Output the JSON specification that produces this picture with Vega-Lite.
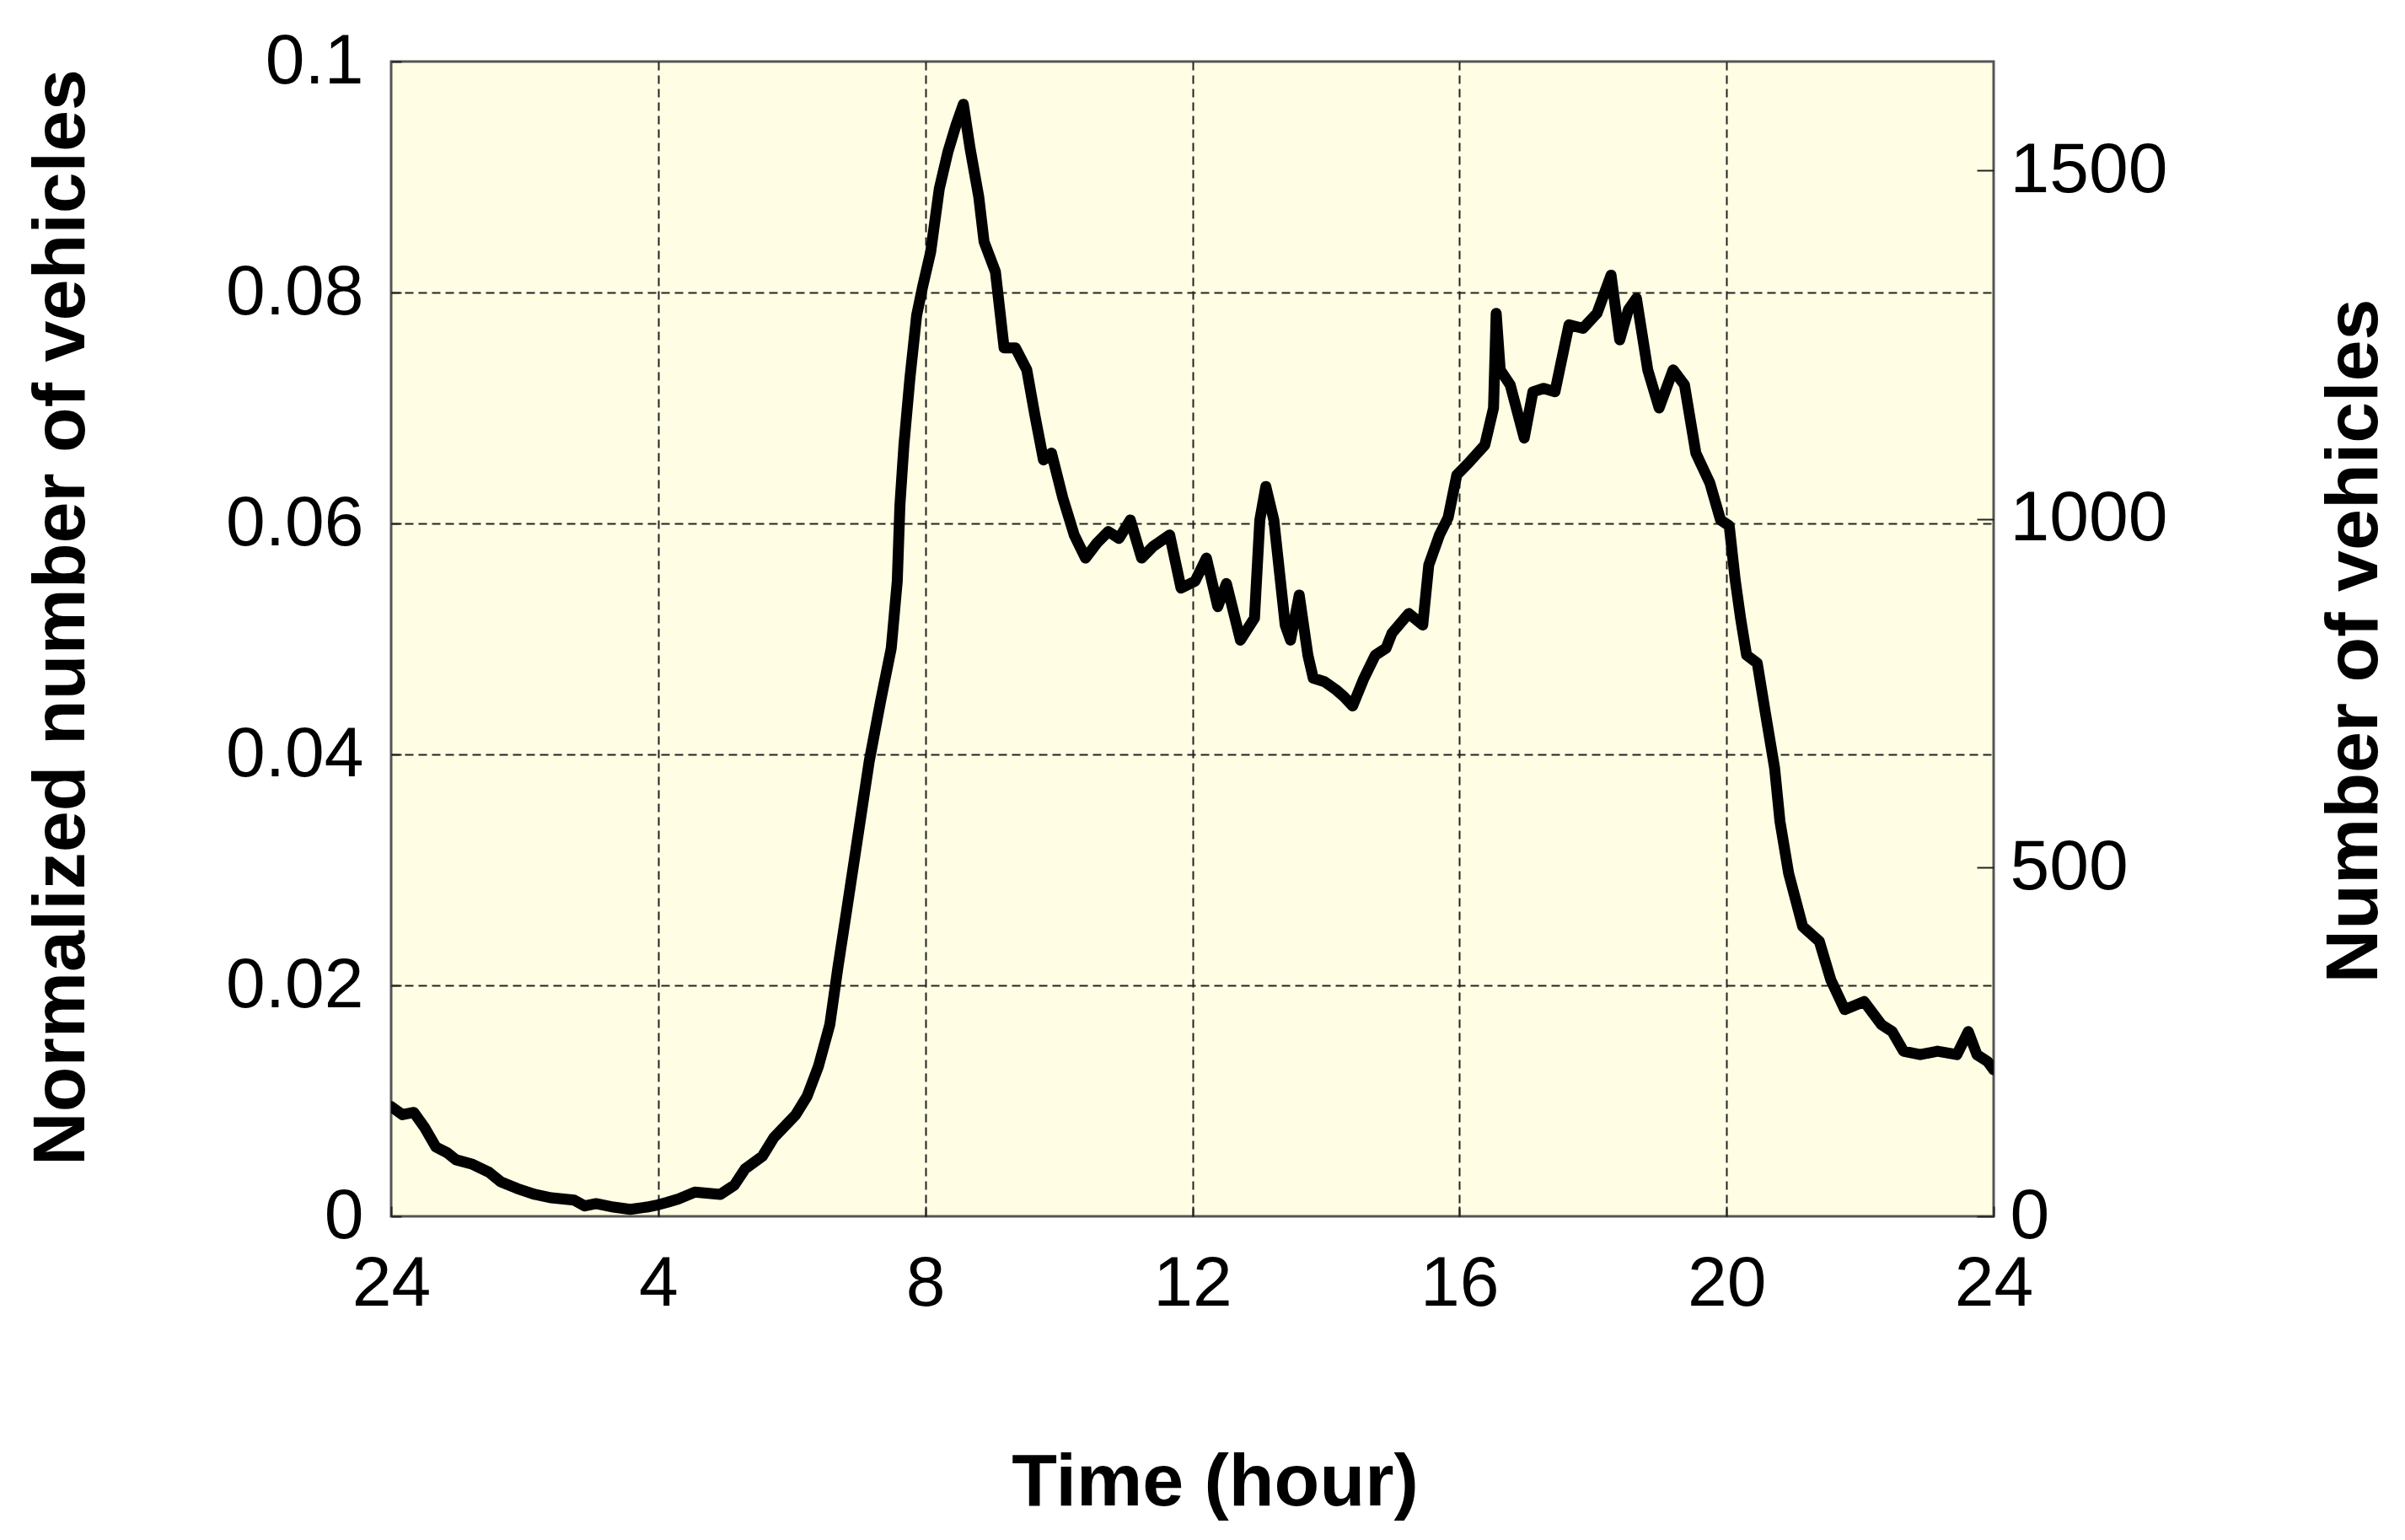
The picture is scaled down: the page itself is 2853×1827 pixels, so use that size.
{
  "$schema": "https://vega.github.io/schema/vega-lite/v6.json",
  "autosize": "none",
  "width": 1901,
  "height": 1370,
  "padding": {"left": 464, "top": 73, "right": 488, "bottom": 384},
  "background": "white",
  "config": {
    "font": "Liberation Sans",
    "view": {"fill": "#FFFEE4", "stroke": "#555555", "strokeWidth": 3},
    "axis": {
      "labelFont": "Liberation Sans",
      "labelFontSize": 84,
      "labelColor": "black",
      "labelLimit": 0,
      "titleFont": "Liberation Sans",
      "titleFontSize": 88,
      "titleFontWeight": "bold",
      "titleColor": "black",
      "titleLimit": 0,
      "domain": false,
      "tickColor": "#222222",
      "tickWidth": 2,
      "gridColor": "#222222",
      "gridWidth": 2,
      "gridDash": [10, 6]
    }
  },
  "layer": [
    {
      "data": {
        "values": [
          {"hour": 0, "normalized": 0.0095},
          {"hour": 0.17, "normalized": 0.0088},
          {"hour": 0.34, "normalized": 0.009},
          {"hour": 0.5, "normalized": 0.0077},
          {"hour": 0.67, "normalized": 0.006},
          {"hour": 0.84, "normalized": 0.0055},
          {"hour": 0.97, "normalized": 0.0049},
          {"hour": 1.22, "normalized": 0.0045},
          {"hour": 1.47, "normalized": 0.0038},
          {"hour": 1.64, "normalized": 0.003},
          {"hour": 1.89, "normalized": 0.0024},
          {"hour": 2.15, "normalized": 0.0019},
          {"hour": 2.4, "normalized": 0.0016},
          {"hour": 2.74, "normalized": 0.0014},
          {"hour": 2.9, "normalized": 0.0009},
          {"hour": 3.07, "normalized": 0.0011},
          {"hour": 3.33, "normalized": 0.0008},
          {"hour": 3.58, "normalized": 0.0006},
          {"hour": 3.83, "normalized": 0.0008},
          {"hour": 4.0, "normalized": 0.001},
          {"hour": 4.13, "normalized": 0.0012},
          {"hour": 4.3, "normalized": 0.0015},
          {"hour": 4.55, "normalized": 0.0021},
          {"hour": 4.93, "normalized": 0.0019},
          {"hour": 5.14, "normalized": 0.0027},
          {"hour": 5.3, "normalized": 0.0041},
          {"hour": 5.56, "normalized": 0.0052},
          {"hour": 5.73, "normalized": 0.0068},
          {"hour": 6.06, "normalized": 0.0088},
          {"hour": 6.23, "normalized": 0.0104},
          {"hour": 6.4, "normalized": 0.013},
          {"hour": 6.57, "normalized": 0.0166},
          {"hour": 6.69, "normalized": 0.0215},
          {"hour": 6.82, "normalized": 0.0264},
          {"hour": 6.99, "normalized": 0.0329},
          {"hour": 7.16, "normalized": 0.0394},
          {"hour": 7.33, "normalized": 0.0446},
          {"hour": 7.49, "normalized": 0.0492},
          {"hour": 7.58, "normalized": 0.055},
          {"hour": 7.62, "normalized": 0.0616},
          {"hour": 7.68, "normalized": 0.0668},
          {"hour": 7.77, "normalized": 0.0726},
          {"hour": 7.87, "normalized": 0.078},
          {"hour": 7.96, "normalized": 0.0805},
          {"hour": 8.08, "normalized": 0.0835},
          {"hour": 8.21, "normalized": 0.089},
          {"hour": 8.34, "normalized": 0.0922},
          {"hour": 8.46, "normalized": 0.0945},
          {"hour": 8.57, "normalized": 0.0963},
          {"hour": 8.67, "normalized": 0.0925},
          {"hour": 8.8, "normalized": 0.0883},
          {"hour": 8.88, "normalized": 0.0844},
          {"hour": 9.05, "normalized": 0.0818},
          {"hour": 9.18, "normalized": 0.0752},
          {"hour": 9.35, "normalized": 0.0752},
          {"hour": 9.52, "normalized": 0.0733},
          {"hour": 9.64, "normalized": 0.0694},
          {"hour": 9.77, "normalized": 0.0655},
          {"hour": 9.89, "normalized": 0.0661},
          {"hour": 10.06, "normalized": 0.0622},
          {"hour": 10.23, "normalized": 0.059},
          {"hour": 10.4, "normalized": 0.057},
          {"hour": 10.57, "normalized": 0.0583},
          {"hour": 10.74, "normalized": 0.0593},
          {"hour": 10.9, "normalized": 0.0587},
          {"hour": 11.07, "normalized": 0.0603},
          {"hour": 11.24, "normalized": 0.057},
          {"hour": 11.41, "normalized": 0.058},
          {"hour": 11.66, "normalized": 0.059},
          {"hour": 11.83, "normalized": 0.0544},
          {"hour": 12.04, "normalized": 0.055},
          {"hour": 12.21, "normalized": 0.057},
          {"hour": 12.38, "normalized": 0.0528},
          {"hour": 12.51, "normalized": 0.0548},
          {"hour": 12.72, "normalized": 0.0499},
          {"hour": 12.93, "normalized": 0.0518},
          {"hour": 13.01, "normalized": 0.0603},
          {"hour": 13.1, "normalized": 0.0632},
          {"hour": 13.22, "normalized": 0.0603},
          {"hour": 13.39, "normalized": 0.0512},
          {"hour": 13.47, "normalized": 0.0499},
          {"hour": 13.6, "normalized": 0.0538},
          {"hour": 13.73, "normalized": 0.0486},
          {"hour": 13.81, "normalized": 0.0466},
          {"hour": 13.98, "normalized": 0.0463},
          {"hour": 14.15, "normalized": 0.0456},
          {"hour": 14.27, "normalized": 0.045},
          {"hour": 14.4, "normalized": 0.0442},
          {"hour": 14.57, "normalized": 0.0466},
          {"hour": 14.74, "normalized": 0.0486},
          {"hour": 14.9, "normalized": 0.0492},
          {"hour": 14.99, "normalized": 0.0505},
          {"hour": 15.24, "normalized": 0.0522},
          {"hour": 15.45, "normalized": 0.0512},
          {"hour": 15.54, "normalized": 0.0564},
          {"hour": 15.7, "normalized": 0.059},
          {"hour": 15.83, "normalized": 0.0605},
          {"hour": 15.96, "normalized": 0.0642},
          {"hour": 16.13, "normalized": 0.0652},
          {"hour": 16.38, "normalized": 0.0668},
          {"hour": 16.51, "normalized": 0.07},
          {"hour": 16.55, "normalized": 0.0782},
          {"hour": 16.61, "normalized": 0.0733},
          {"hour": 16.76, "normalized": 0.072},
          {"hour": 16.97, "normalized": 0.0674},
          {"hour": 17.1, "normalized": 0.0714},
          {"hour": 17.26, "normalized": 0.0717},
          {"hour": 17.43, "normalized": 0.0714},
          {"hour": 17.64, "normalized": 0.0772},
          {"hour": 17.85, "normalized": 0.0769},
          {"hour": 18.06, "normalized": 0.0782},
          {"hour": 18.27, "normalized": 0.0815},
          {"hour": 18.4, "normalized": 0.0759},
          {"hour": 18.53, "normalized": 0.0785},
          {"hour": 18.65, "normalized": 0.0795},
          {"hour": 18.82, "normalized": 0.0733},
          {"hour": 18.99, "normalized": 0.07},
          {"hour": 19.2, "normalized": 0.0733},
          {"hour": 19.37, "normalized": 0.072},
          {"hour": 19.54, "normalized": 0.0661},
          {"hour": 19.75, "normalized": 0.0635},
          {"hour": 19.91, "normalized": 0.0603},
          {"hour": 20.04, "normalized": 0.0598},
          {"hour": 20.13, "normalized": 0.0551},
          {"hour": 20.21, "normalized": 0.0518},
          {"hour": 20.3, "normalized": 0.0486},
          {"hour": 20.46, "normalized": 0.0479},
          {"hour": 20.59, "normalized": 0.0433},
          {"hour": 20.72, "normalized": 0.0388},
          {"hour": 20.8, "normalized": 0.0342},
          {"hour": 20.93, "normalized": 0.0297},
          {"hour": 21.14, "normalized": 0.0251},
          {"hour": 21.39, "normalized": 0.0238},
          {"hour": 21.56, "normalized": 0.0205},
          {"hour": 21.77, "normalized": 0.0179},
          {"hour": 22.06, "normalized": 0.0186},
          {"hour": 22.32, "normalized": 0.0166},
          {"hour": 22.48, "normalized": 0.016},
          {"hour": 22.65, "normalized": 0.0143},
          {"hour": 22.9, "normalized": 0.014},
          {"hour": 23.16, "normalized": 0.0143},
          {"hour": 23.45, "normalized": 0.014},
          {"hour": 23.62, "normalized": 0.016},
          {"hour": 23.75, "normalized": 0.014},
          {"hour": 23.91, "normalized": 0.0134},
          {"hour": 24, "normalized": 0.0127}
        ]
      },
      "mark": {"type": "line", "color": "black", "strokeWidth": 13, "strokeJoin": "round", "strokeCap": "round", "clip": true},
      "encoding": {
        "x": {
          "field": "hour",
          "type": "quantitative",
          "scale": {"domain": [0, 24], "nice": false, "zero": false},
          "axis": {
            "values": [0, 4, 8, 12, 16, 20, 24],
            "labelExpr": "datum.value == 0 ? '24' : datum.label",
            "title": "Time (hour)",
            "tickSize": -12,
            "labelPadding": 51,
            "labelFlush": false,
            "labelOverlap": false,
            "grid": true,
            "gridOpacity": {"condition": {"test": "datum.value == 0 || datum.value == 24", "value": 0}, "value": 1},
            "titleX": 977,
            "titleY": 316,
            "titleAlign": "center",
            "titleBaseline": "middle",
            "titleAnchor": null
          }
        },
        "y": {
          "field": "normalized",
          "type": "quantitative",
          "scale": {"domain": [0, 0.1], "nice": false},
          "axis": {
            "orient": "left",
            "values": [0, 0.02, 0.04, 0.06, 0.08, 0.1],
            "format": "~g",
            "title": "Normalized number of vehicles",
            "tickSize": -12,
            "labelPadding": 45,
            "labelFlush": false,
            "labelOverlap": false,
            "labelBaseline": "middle",
            "grid": true,
            "gridOpacity": {"condition": {"test": "datum.value <= 0 || datum.value >= 0.1", "value": 0}, "value": 1},
            "titleAngle": 270,
            "titleX": -391,
            "titleY": 659,
            "titleAlign": "center",
            "titleBaseline": "middle"
          }
        }
      }
    },
    {
      "data": {"values": [{"vehicles": 0}, {"vehicles": 1656}]},
      "mark": {"type": "point", "opacity": 0},
      "encoding": {
        "y": {
          "field": "vehicles",
          "type": "quantitative",
          "scale": {"domain": [0, 1656], "nice": false},
          "axis": {
            "orient": "right",
            "values": [0, 500, 1000, 1500],
            "format": "d",
            "title": "Number of vehicles",
            "tickSize": -20,
            "labelPadding": 39,
            "labelFlush": false,
            "labelOverlap": false,
            "labelBaseline": "middle",
            "grid": false,
            "titleAngle": 270,
            "titleX": 428,
            "titleY": 687,
            "titleAlign": "center",
            "titleBaseline": "middle"
          }
        }
      }
    }
  ],
  "resolve": {"scale": {"y": "independent"}, "axis": {"y": "independent"}}
}
